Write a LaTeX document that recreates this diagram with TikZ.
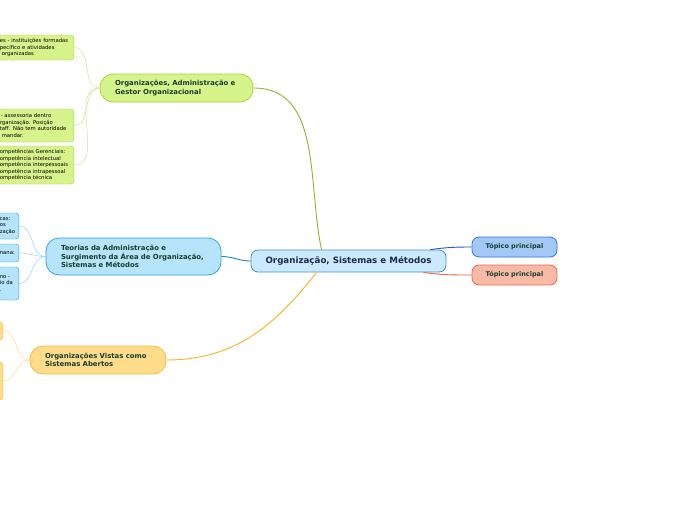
\documentclass[tikz,border=0pt]{standalone}
\usepackage{fontspec}
\setmainfont{DejaVu Sans}
\usepackage{xcolor}
\definecolor{centrefill}{HTML}{CBE9FA}
\definecolor{centreline}{HTML}{3E93D1}
\definecolor{centretext}{HTML}{1B2A50}
\definecolor{branchtext}{HTML}{173D2B}
\definecolor{limefill}{HTML}{D7F38C}
\definecolor{limeline}{HTML}{A6D63C}
\definecolor{limelink}{HTML}{8AB82A}
\definecolor{limeleaf}{HTML}{C8E98E}
\definecolor{skyfill}{HTML}{B5E4FB}
\definecolor{skyline}{HTML}{2AA8E8}
\definecolor{skylink}{HTML}{1E88C8}
\definecolor{skyleaf}{HTML}{92D4F5}
\definecolor{goldfill}{HTML}{FFDC8C}
\definecolor{goldline}{HTML}{F6BA36}
\definecolor{goldlink}{HTML}{F9B21B}
\definecolor{goldleaf}{HTML}{FFD98C}
\definecolor{topicfill}{HTML}{A3C8F7}
\definecolor{topicline}{HTML}{3177E0}
\definecolor{topiclink}{HTML}{1C5CC8}
\definecolor{salmonfill}{HTML}{F8BAA7}
\definecolor{salmonline}{HTML}{EF6A45}
\definecolor{salmonlink}{HTML}{F0603A}
\usetikzlibrary{positioning,calc}
\tikzset{
  mapcentre/.style={draw=centreline,fill=centrefill,thick,rounded corners=7pt,minimum width=195pt,minimum height=22pt,text=centretext,font=\fontsize{8.7}{10}\selectfont\bfseries},
  maptopic/.style={thick,rounded corners=7pt,minimum width=85pt,minimum height=20pt,text=branchtext,font=\fontsize{6.5}{7.5}\selectfont\bfseries},
  mapbranch/.style={thick,rounded corners=13pt,align=left,inner xsep=15pt,text=branchtext,font=\fontsize{6.9}{8.4}\selectfont\bfseries},
  mapleaf/.style={rounded corners=3pt,align=left,inner xsep=2pt,inner ysep=2pt,anchor=east,font={\fontsize{5.3}{6.5}\selectfont\hyphenpenalty10000}},
  maplink/.style={line width=0.9pt},
  leaflink/.style={line width=0.5pt}
}
\begin{document}
\begin{tikzpicture}[x=1pt,y=-1pt]
\fill[white] (0,0) rectangle (696,520);
\useasboundingbox (0,0) rectangle (696,520);
\clip (0,0) rectangle (696,520);
% centre and main topics
\node[mapcentre] (c) at (348.5,261) {Organização, Sistemas e Métodos};
\node[maptopic,draw=topicline,fill=topicfill] (t1) at (514.5,247) {Tópico principal};
\node[maptopic,draw=salmonline,fill=salmonfill] (t2) at (514.5,275) {Tópico principal};
\node[mapbranch,draw=limeline,fill=limefill,text width=123pt,minimum height=28pt] (g) at (176.5,88) {Organizações, Administração e\\Gestor Organizacional};
\node[mapbranch,draw=skyline,fill=skyfill,text width=145pt,minimum height=37pt] (b) at (133.5,256.5) {Teorias da Administração e\\Surgimento da Área de Organização,\\Sistemas e Métodos};
\node[mapbranch,draw=goldline,fill=goldfill,text width=106pt,minimum height=28pt] (o) at (98,360) {Organizações Vistas como\\Sistemas Abertos};
% leaves (cut at the left edge)
\node[mapleaf,draw=limeline,fill=limefill,text width=72pt,minimum height=25pt] (g1) at (74,47.5) {es - instituições formadas\\pecífico e atividades\\\hspace*{2pt}organizadas};
\node[mapleaf,draw=limeline,fill=limefill,text width=72pt,minimum height=33pt] (g2) at (74,125.5) {\hspace*{1pt}- assessoria dentro\\rganização. Posição\\taff. Não tem autoridade\\\hspace*{2pt}mandar.};
\node[mapleaf,draw=limeline,fill=limefill,text width=72pt,minimum height=38pt] (g3) at (74,165) {ompetências Gerenciais:\\ompetência intelectual\\ompetência interpessoais\\ompetência intrapessoal\\ompetência técnica};
\node[mapleaf,draw=skyline,fill=skyfill,text width=17pt,minimum height=26pt] (b1) at (19,226) {cas:\\os\\zação};
\node[mapleaf,draw=skyline,fill=skyfill,text width=17pt,minimum height=18pt] (b2) at (19,253) {nana:};
\node[mapleaf,draw=skyline,fill=skyfill,text width=17pt,minimum height=33pt] (b3) at (19,283.5) {no -\\io da\\.};
\node[mapleaf,draw=goldline,fill=goldfill,text width=16pt,minimum height=18pt] (o1) at (3,331) {};
\node[mapleaf,draw=goldline,fill=goldfill,text width=16pt,minimum height=38pt] (o2) at (3,381) {};
% links
\draw[maplink,limelink] (g.east) to[out=0,in=102] ([xshift=-27pt]c.north);
\draw[maplink,skylink] (b.east) to[out=0,in=180] (c.west);
\draw[maplink,goldlink] (o.east) to[out=0,in=-128] ([xshift=-32pt]c.south);
\draw[maplink,topiclink] ([xshift=-16pt]c.north east) to[out=8,in=180] (t1.west);
\draw[maplink,salmonlink] ([xshift=-23pt]c.south east) to[out=-8,in=180] (t2.west);
\foreach \leaf in {g1,g2,g3}
  \draw[leaflink,limeleaf] (g.west) to[out=180,in=0] (\leaf.east);
\foreach \leaf in {b1,b2,b3}
  \draw[leaflink,skyleaf] (b.west) to[out=180,in=0] (\leaf.east);
\foreach \leaf in {o1,o2}
  \draw[leaflink,goldleaf] (o.west) to[out=180,in=0] (\leaf.east);
\end{tikzpicture}
\end{document}
